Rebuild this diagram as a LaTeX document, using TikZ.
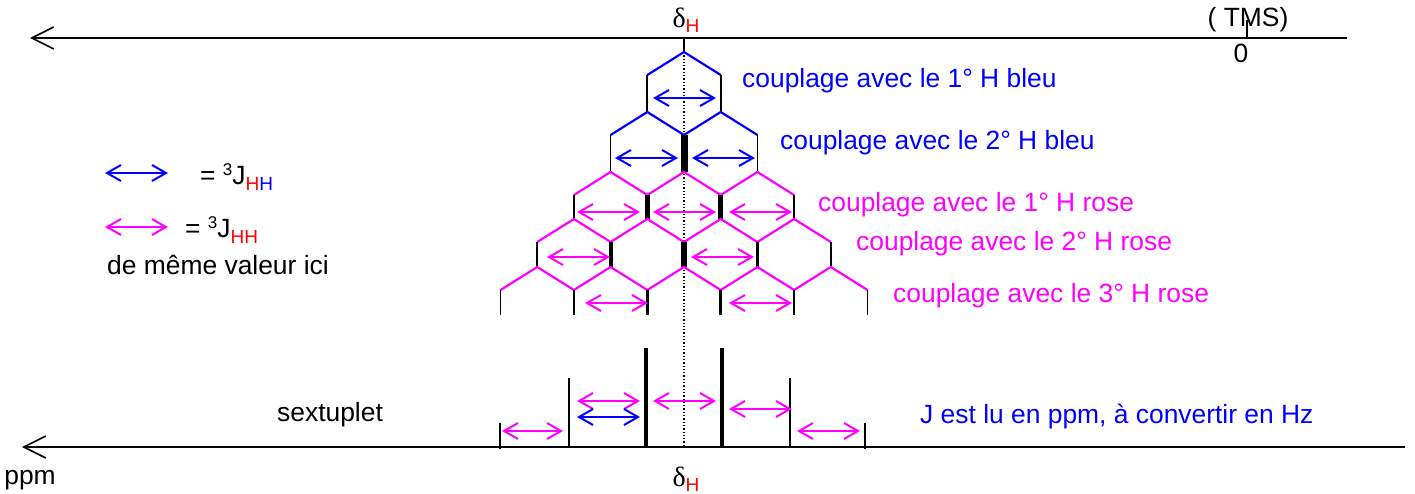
\documentclass[tikz,border=0pt]{standalone}
\usepackage{fontspec}
\setmainfont{Liberation Sans}
\newfontfamily\grk{Liberation Serif}
\usetikzlibrary{arrows.meta}
\definecolor{jblue}{RGB}{0,0,255}
\definecolor{jpink}{RGB}{255,0,255}
\definecolor{jred}{RGB}{255,0,0}
\tikzset{
  axis/.style={line width=1.7pt, black, {Straight Barb[length=22pt,width=22pt,line width=1.6pt]}-},
  jarr/.style={line width=2pt, {Straight Barb[length=14pt,width=16pt]}-{Straight Barb[length=14pt,width=16pt]}},
  branchb/.style={line width=2.2pt, jblue},
  branchp/.style={line width=2.2pt, jpink},
  lbl/.style={inner sep=0pt, anchor=west, font=\fontsize{26.4}{30}\selectfont},
}
\newcommand{\dH}{{\grk\fontsize{28}{30}\selectfont δ}{\fontsize{19}{20}\selectfont\raisebox{-5pt}{\textcolor{jred}{H}}}}
\begin{document}
\begin{tikzpicture}[x=1pt,y=-1pt]
\useasboundingbox (0,0) rectangle (1415,494);
% axes
\coordinate (topL) at (30,38);
\coordinate (topR) at (1347,38);
\coordinate (botL) at (22,447);
\coordinate (botR) at (1405,447);
\draw[axis] (topL) -- (topR);
\draw[axis] (botL) -- (botR);
% TMS
\coordinate (tmsA) at (1247,20);
\coordinate (tmsB) at (1247,38);
\draw[line width=1.6pt] (tmsA) -- (tmsB);
\node[lbl, anchor=center] (tms) at (1248,20) {( TMS)};
\node[lbl, anchor=center] (zero) at (1241,53) {0};
\node[lbl, anchor=center] (ppm) at (30,480) {ppm};
% delta labels
\node[inner sep=0pt, anchor=center] (dtop) at (686,20) {\dH};
\node[inner sep=0pt, anchor=center] (dbot) at (686,479) {\dH};
% centre dotted line and top tick
\coordinate (c0) at (684,52);
\coordinate (cb) at (684,447);
\draw[line width=1.7pt] (684,38) -- (c0);
\draw[dotted, line width=1.3pt] (c0) -- (cb);
% tree
\def\dx{36.7}
% level 1
\draw[branchb] (684-\dx,75) -- (c0) -- (684+\dx,75);
\foreach \x in {-1,1} \draw[line width=1.7pt] (684+\x*\dx,75) -- (684+\x*\dx,112);
% level 2
\foreach \x in {-1,1} \draw[branchb] (684+\x*\dx-\dx,135) -- (684+\x*\dx,112) -- (684+\x*\dx+\dx,135);
\foreach \x/\w in {-2/1.7,0/7,2/1.7} \draw[line width=\w pt] (684+\x*\dx,135) -- (684+\x*\dx,172);
% level 3
\foreach \x in {-2,0,2} \draw[branchp] (684+\x*\dx-\dx,195) -- (684+\x*\dx,172) -- (684+\x*\dx+\dx,195);
\foreach \x/\w in {-3/1.7,-1/5,1/5,3/1.7} \draw[line width=\w pt] (684+\x*\dx,195) -- (684+\x*\dx,219);
% level 4
\foreach \x in {-3,-1,1,3} \draw[branchp] (684+\x*\dx-\dx,242) -- (684+\x*\dx,219) -- (684+\x*\dx+\dx,242);
\foreach \x/\w in {-4/1.7,-2/4,0/6,2/3.5,4/1.7} \draw[line width=\w pt] (684+\x*\dx,242) -- (684+\x*\dx,267);
% level 5
\foreach \x in {-4,-2,0,2,4} \draw[branchp] (684+\x*\dx-\dx,290) -- (684+\x*\dx,267) -- (684+\x*\dx+\dx,290);
\foreach \x/\w in {-5/1.7,-3/2.2,-1/3.2,1/3.2,3/2.4,5/1.7} \draw[line width=\w pt] (684+\x*\dx,290) -- (684+\x*\dx,315);
% coupling arrows in the tree
\draw[jarr, jblue] (653,98) -- (716,98);
\draw[jarr, jblue] (615,158) -- (678,158);
\draw[jarr, jblue] (692,158) -- (755,158);
\draw[jarr, jpink] (577,212) -- (640,212);
\draw[jarr, jpink] (653,212) -- (716,212);
\draw[jarr, jpink] (729,212) -- (792,212);
\draw[jarr, jpink] (547,257) -- (610,257);
\draw[jarr, jpink] (691,257) -- (754,257);
\draw[jarr, jpink] (585,303) -- (648,303);
\draw[jarr, jpink] (729,303) -- (792,303);
% tree labels
\node[lbl, text=jblue] (l1) at (742,81) {couplage avec le 1° H bleu};
\node[lbl, text=jblue] (l2) at (780,143) {couplage avec le 2° H bleu};
\node[lbl, text=jpink] (l3) at (818,205) {couplage avec le 1° H rose};
\node[lbl, text=jpink] (l4) at (856,244) {couplage avec le 2° H rose};
\node[lbl, text=jpink] (l5) at (893,296) {couplage avec le 3° H rose};
% spectrum sticks
\draw[line width=1.7pt] (500,423) -- (500,449);
\draw[line width=2.2pt] (569,378) -- (569,447);
\draw[line width=3.4pt] (646,348) -- (646,447);
\draw[line width=3.4pt] (722,348) -- (722,447);
\draw[line width=2.2pt] (790,378) -- (790,447);
\draw[line width=1.7pt] (865,423) -- (865,449);
% spectrum arrows
\draw[jarr, jpink] (502,431) -- (563,431);
\draw[jarr, jpink] (577,401) -- (640,401);
\draw[jarr, jblue] (577,417) -- (640,417);
\draw[jarr, jpink] (653,401) -- (716,401);
\draw[jarr, jpink] (729,409) -- (792,409);
\draw[jarr, jpink] (797,431) -- (860,431);
\node[lbl] (sext) at (277,415) {sextuplet};
\node[lbl, text=jblue] (jlu) at (920,417) {J est lu en ppm, à convertir en Hz};
% legend
\draw[jarr, jblue] (105,173) -- (168,173);
\node[lbl] (leg1) at (200,177) {= \raisebox{9pt}{\fontsize{17}{18}\selectfont 3}J\raisebox{-6pt}{\fontsize{19}{20}\selectfont\textcolor{jred}{H}\textcolor{jblue}{H}}};
\draw[jarr, jpink] (105,227) -- (168,227);
\node[lbl] (leg2) at (185,230) {= \raisebox{9pt}{\fontsize{17}{18}\selectfont 3}J\raisebox{-6pt}{\fontsize{19}{20}\selectfont\textcolor{jred}{HH}}};
\node[lbl] (leg3) at (107,265) {de même valeur ici};
\end{tikzpicture}
\end{document}
